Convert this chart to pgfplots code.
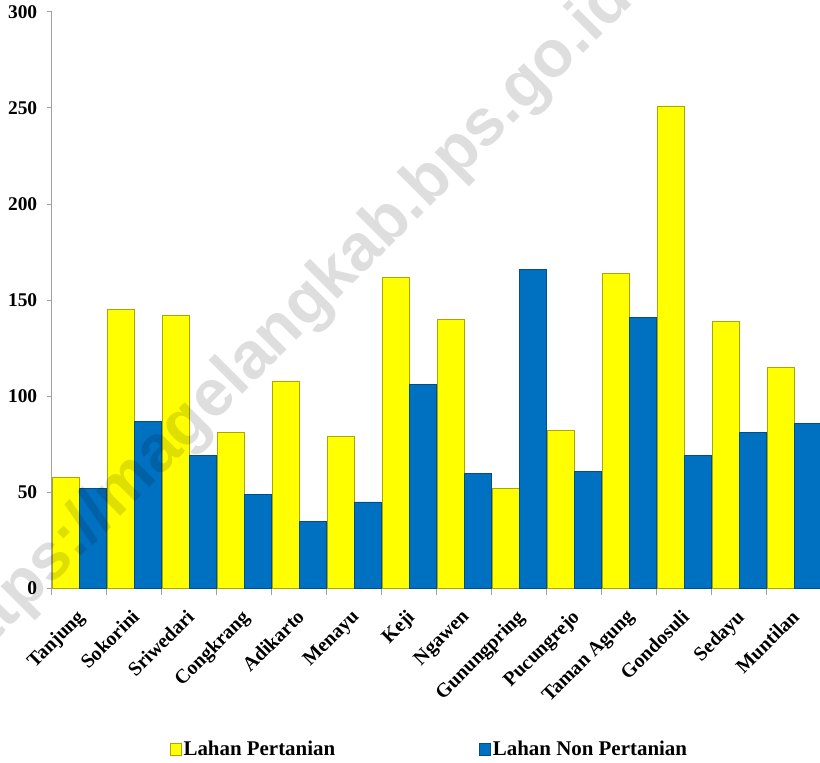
\documentclass[border=0pt]{standalone}
\usepackage{fontspec}
\setmainfont{Liberation Serif}
\newfontfamily\wmfont{Liberation Sans}
\usepackage{pgfplots}
\pgfplotsset{compat=1.18}
\usepackage{pgfplotstable}
\definecolor{barY}{HTML}{FFFF00}
\definecolor{barYe}{HTML}{A8A800}
\definecolor{barB}{HTML}{0070C0}
\definecolor{barBe}{HTML}{004F88}
\definecolor{axgray}{HTML}{A0A0A0}

\pgfplotstableread{
idx tani non
0 58 52
1 145 87
2 142 69
3 81 49
4 108 35
5 79 45
6 162 106
7 140 60
8 52 166
9 82 61
10 164 141
11 251 69
12 139 81
13 115 86
}\datatab

\begin{document}
\begin{tikzpicture}
\begin{axis}[
  name=main,
  scale only axis,
  width=770bp, height=576.8bp,
  xmin=-0.5, xmax=13.5, ymin=0, ymax=300,
  axis lines=left,
  axis line style={-, draw=axgray, line width=0.9bp},
  ytick={0,50,...,300},
  xtick={0,...,13},
  xticklabels={Tanjung,Sokorini,Sriwedari,Congkrang,Adikarto,Menayu,Keji,Ngawen,Gunungpring,Pucungrejo,Taman Agung,Gondosuli,Sedayu,Muntilan},
  minor xtick={-0.5,0.5,...,13.5},
  tick align=outside,
  major tick length=5bp, minor tick length=6bp,
  tick style={draw=axgray, line width=0.9bp},
  major x tick style={draw=none},
  minor x tick style={draw=axgray, line width=0.9bp},
  /pgf/number format/assume math mode=true,
  yticklabel style={font=\fontsize{19.5}{22}\selectfont\bfseries, xshift=-6bp},
  xticklabel style={font=\fontsize{20}{22}\selectfont\bfseries, xshift=-3.7bp, yshift=-11.8bp, rotate=45, anchor=north east, inner sep=2bp},
  bar width=0.48,
  legend style={at={(0.4906,-0.2783)}, anchor=center, draw=none, fill=none,
    legend columns=2, font=\fontsize{21}{24}\selectfont\bfseries,
    /tikz/every even column/.append style={column sep=142bp}},
  legend image code/.code={\fill[#1] (-6bp,-6bp) rectangle (5bp,6bp);},
]
\addplot[ybar, bar shift=-0.245, fill=barY, draw=barYe, line width=0.7bp] table[x=idx, y=tani] {\datatab};
\addlegendentry{Lahan Pertanian}
\addplot[ybar, bar shift=0.245, fill=barB, draw=barBe, line width=0.7bp] table[x=idx, y=non] {\datatab};
\addlegendentry{Lahan Non Pertanian}
\end{axis}
\node[rotate=45, text=black, opacity=0.13, font=\wmfont\bfseries\fontsize{66}{70}\selectfont]
  at ([xshift=235bp, yshift=262bp]main.south west) {https://magelangkab.bps.go.id};
\pgfresetboundingbox
\useasboundingbox ([xshift=-51.7bp, yshift=-174.5bp]main.south west) rectangle ([xshift=768.3bp, yshift=11.7bp]main.north west);
\end{tikzpicture}
\end{document}
